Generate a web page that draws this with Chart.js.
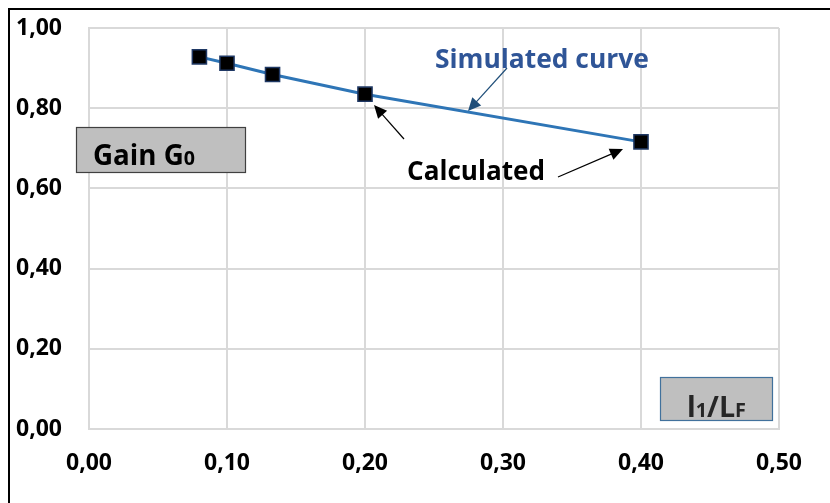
<!DOCTYPE html>
<html>
<head>
<meta charset="utf-8">
<script src="https://cdn.jsdelivr.net/npm/chart.js@4"></script>
<style>
  body { margin: 0; background: #fff; }
  canvas { display: block; }
</style>
</head>
<body>
<canvas id="gainChart" width="830" height="503"></canvas>
<script>
// ratio l1/LF on the x axis, gain G0 on the y axis
const ratioValues = [0.08, 0.10, 0.133, 0.20, 0.40];
const calculatedGain = [0.928, 0.912, 0.884, 0.835, 0.716];
const simulatedRatio = [0.08, 0.10, 0.133, 0.20, 0.40];
const simulatedGain = [0.928, 0.912, 0.884, 0.835, 0.716];
const xTicks = [0, 0.1, 0.2, 0.3, 0.4, 0.5];
const yTicks = [0, 0.2, 0.4, 0.6, 0.8, 1.0];

const FONT = "'Open Sans', Lato, sans-serif";
const fmt = v => v.toFixed(2).replace('.', ',');

function arrow(ctx, x1, y1, x2, y2, color) {
  const ang = Math.atan2(y2 - y1, x2 - x1);
  const len = 13, w = 6;
  ctx.save();
  ctx.strokeStyle = color;
  ctx.fillStyle = color;
  ctx.lineWidth = 1.2;
  ctx.beginPath();
  ctx.moveTo(x1, y1);
  ctx.lineTo(x2 - Math.cos(ang) * len * 0.8, y2 - Math.sin(ang) * len * 0.8);
  ctx.stroke();
  ctx.beginPath();
  ctx.moveTo(x2, y2);
  ctx.lineTo(x2 - Math.cos(ang) * len + Math.sin(ang) * w, y2 - Math.sin(ang) * len - Math.cos(ang) * w);
  ctx.lineTo(x2 - Math.cos(ang) * len - Math.sin(ang) * w, y2 - Math.sin(ang) * len + Math.cos(ang) * w);
  ctx.closePath();
  ctx.fill();
  ctx.restore();
}

function labelBox(ctx, x, y, w, h, border) {
  ctx.save();
  ctx.fillStyle = '#bfbfbf';
  ctx.fillRect(x, y, w, h);
  ctx.strokeStyle = border;
  ctx.lineWidth = 1.2;
  ctx.strokeRect(x + 0.5, y + 0.5, w, h);
  ctx.restore();
}

// pieces of text drawn one after another: [text, relative size], scaled to fill width
function fitText(ctx, x, y, parts, width, color) {
  ctx.save();
  ctx.fillStyle = color;
  ctx.textBaseline = 'alphabetic';
  ctx.textAlign = 'left';
  let total = 0;
  parts.forEach(p => {
    ctx.font = 'bold ' + p[1] + 'px ' + FONT;
    total += ctx.measureText(p[0]).width;
  });
  const k = width / total;
  parts.forEach(p => {
    ctx.font = 'bold ' + (p[1] * k) + 'px ' + FONT;
    ctx.fillText(p[0], x, y);
    x += ctx.measureText(p[0]).width;
  });
  ctx.restore();
}

const decorations = {
  id: 'decorations',
  beforeDraw(chart) {
    const ctx = chart.ctx;
    ctx.save();
    ctx.fillStyle = '#fff';
    ctx.fillRect(0, 0, chart.width, chart.height);
    ctx.strokeStyle = '#000';
    ctx.lineWidth = 2;
    ctx.beginPath();
    ctx.moveTo(9, chart.height);
    ctx.lineTo(9, 9);
    ctx.lineTo(chart.width, 9);
    ctx.stroke();
    ctx.restore();
  },
  afterDraw(chart) {
    const ctx = chart.ctx;
    // axis title boxes
    labelBox(ctx, 76, 127, 169, 45, '#404040');
    fitText(ctx, 93, 165, [['Gain G', 24], ['0', 17]], 102, '#000');
    labelBox(ctx, 660, 377, 112, 43, '#41719c');
    fitText(ctx, 687, 417, [['l', 26], ['1', 18], ['/L', 26], ['F', 18]], 59, '#262626');

    // annotations
    fitText(ctx, 435, 68, [['Simulated curve', 24]], 214, '#2f5597');
    arrow(ctx, 507, 68, 468, 111, '#1f4e79');
    fitText(ctx, 407, 180, [['Calculated', 25]], 138, '#000');
    arrow(ctx, 404, 139, 374, 105, '#000');
    arrow(ctx, 558, 177, 623, 149, '#000');
  }
};

new Chart(document.getElementById('gainChart'), {
  type: 'scatter',
  data: {
    datasets: [{
      label: 'Calculated',
      data: ratioValues.map((x, i) => ({ x: x, y: calculatedGain[i] })),
      pointStyle: 'rect',
      pointRadius: 10,
      backgroundColor: '#000',
      borderColor: '#1f3864',
      borderWidth: 1.5,
      showLine: false,
      order: 0
    }, {
      label: 'Simulated curve',
      data: simulatedRatio.map((x, i) => ({ x: x, y: simulatedGain[i] })),
      showLine: true,
      borderColor: '#2e75b6',
      borderWidth: 3,
      pointRadius: 0,
      order: 1
    }]
  },
  options: {
    responsive: false,
    animation: false,
    layout: { padding: { top: 28, right: 51, bottom: 0, left: 0 } },
    plugins: { legend: { display: false }, tooltip: { enabled: false } },
    scales: {
      x: {
        type: 'linear',
        min: 0, max: 0.5,
        afterBuildTicks: s => { s.ticks = xTicks.map(v => ({ value: v })); },
        afterFit: s => { s.height = 74; s.paddingLeft = 0; s.paddingRight = 0; },
        grid: { color: '#d9d9d9', lineWidth: 2, drawTicks: false },
        border: { color: '#d9d9d9', width: 2 },
        ticks: {
          padding: 21,
          color: '#000',
          font: { family: FONT, size: 23, weight: 'bold' },
          callback: v => fmt(v)
        }
      },
      y: {
        min: 0, max: 1,
        afterBuildTicks: s => { s.ticks = yTicks.map(v => ({ value: v })); },
        afterFit: s => { s.width = 89; s.paddingTop = 0; s.paddingBottom = 0; },
        grid: { color: '#d9d9d9', lineWidth: 2, drawTicks: false },
        border: { color: '#d9d9d9', width: 2 },
        ticks: {
          padding: 27,
          color: '#000',
          font: { family: FONT, size: 23, weight: 'bold' },
          callback: v => fmt(v)
        }
      }
    }
  },
  plugins: [decorations]
});
</script>
</body>
</html>
